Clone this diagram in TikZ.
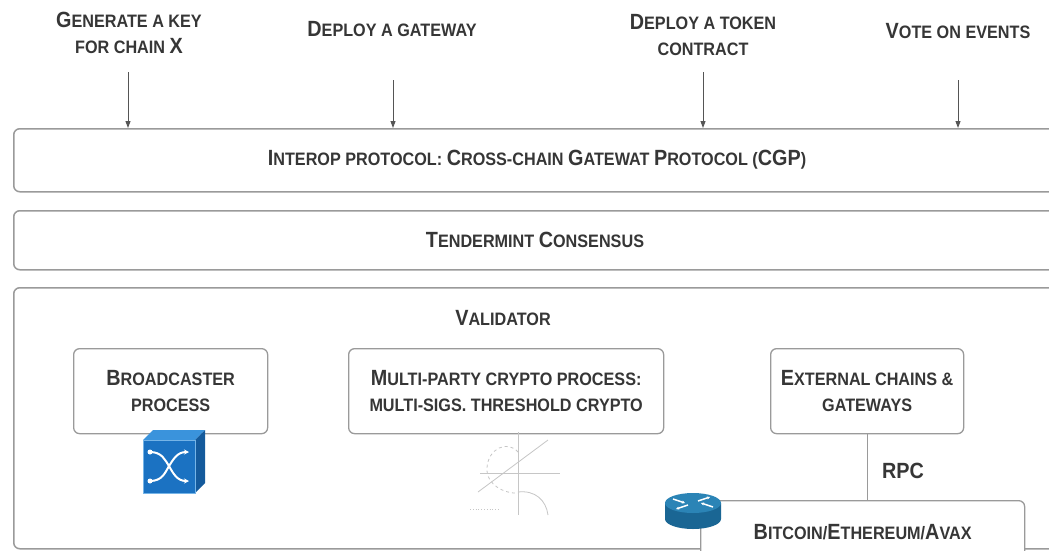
\documentclass[tikz,border=0pt]{standalone}
\usepackage{fontspec}
\usetikzlibrary{arrows.meta}
\newfontfamily\df[FakeStretch=0.9]{Liberation Sans Bold}
\newcommand\Cp[1]{{\fontsize{22}{26}\selectfont #1}}
\definecolor{txtc}{HTML}{363636}
\definecolor{boxc}{HTML}{9A9A9A}
\definecolor{arrc}{HTML}{555555}
\definecolor{swF}{HTML}{1B72C2}
\definecolor{swT}{HTML}{3A93DC}
\definecolor{swS}{HTML}{145A9C}
\definecolor{rtB}{HTML}{1A6694}
\definecolor{rtT}{HTML}{2B84B6}
\tikzset{
  txt/.style={font=\df\fontsize{18}{26}\selectfont, text=txtc, align=center, inner sep=0pt},
  layer/.style={draw=boxc, line width=1.5pt, rounded corners=6pt, fill=white, anchor=north west, inner sep=0pt},
  procbox/.style={draw=boxc, line width=1.3pt, rounded corners=6pt, fill=white, anchor=north west, inner sep=0pt, font=\df\fontsize{18}{26}\selectfont, text=txtc, align=center},
  arr/.style={draw=arrc, line width=0.9pt, -{Triangle[length=7pt,width=5pt]}},
  conn/.style={draw=boxc, line width=1.3pt},
  sketch/.style={draw=gray!45, line width=0.8pt}
}
\begin{document}
\begin{tikzpicture}[x=1pt,y=-1pt]
\useasboundingbox (0,0) rectangle (1049,550);
\clip (0,0) rectangle (1049,550);
\fill[white] (0,0) rectangle (1049,550);

% top labels
\node[txt] (g1) at (129,33) {\Cp{G}ENERATE A KEY\\FOR CHAIN \Cp{X}};
\node[txt] (g2) at (392,29) {\Cp{D}EPLOY A GATEWAY};
\node[txt] (g3) at (703,35) {\Cp{D}EPLOY A TOKEN\\CONTRACT};
\node[txt] (g4) at (958,31) {\Cp{V}OTE ON EVENTS};

% layers
\node[layer, minimum width=1060pt, minimum height=63pt] (interop) at (13,128) {};
\node[txt] (interopT) at (537,160) {\Cp{I}NTEROP PROTOCOL: \Cp{C}ROSS-CHAIN \Cp{G}ATEWAT \Cp{P}ROTOCOL (\Cp{CGP})};
\node[layer, minimum width=1060pt, minimum height=59pt] (tender) at (13,210) {};
\node[txt] (tenderT) at (535,240) {\Cp{T}ENDERMINT \Cp{C}ONSENSUS};
\node[layer, minimum width=1060pt, minimum height=261pt] (valid) at (13,287) {};
\node[txt] (validT) at (503,318) {\Cp{V}ALIDATOR};

% arrows
\coordinate (a1) at (128,72);
\coordinate (a2) at (393,80);
\coordinate (a3) at (703,72);
\coordinate (a4) at (958,80);
\foreach \a in {a1,a2,a3,a4} \draw[arr] (\a) -- (\a |- interop.north);

% process boxes
\node[procbox, minimum width=194pt, minimum height=85pt] (bcast) at (73,348) {\Cp{B}ROADCASTER\\PROCESS};
\node[procbox, minimum width=315pt, minimum height=85pt] (mpc) at (348,348) {\Cp{M}ULTI-PARTY CRYPTO PROCESS:\\MULTI-SIGS. THRESHOLD CRYPTO};
\node[procbox, minimum width=193pt, minimum height=85pt] (ext) at (770,348) {\Cp{E}XTERNAL CHAINS \&\\GATEWAYS};
\node[procbox, minimum width=324pt, minimum height=62pt] (btc) at (700,500) {\Cp{B}ITCOIN/\Cp{E}THEREUM/\Cp{A}VAX};

\draw[conn] (ext.south) -- (ext.south |- btc.north);
\node[txt, font=\df\fontsize{22}{26}\selectfont] (rpc) at (903,471) {RPC};

% switch cube icon
\fill[swT] (143,440) -- (153,430) -- (205,430) -- (195,440) -- cycle;
\fill[swS] (195,440) -- (205,430) -- (205,483) -- (195,493) -- cycle;
\fill[swF] (143,440) rectangle (195,493);
\draw[swT!70!white, line width=0.8pt] (143,440) rectangle (195,493);
\draw[white, line width=2pt, -{Stealth[length=5pt,width=5pt]}] (150,452) .. controls (162,452) and (165,460) .. (169,466) .. controls (173,473) and (177,481) .. (189,481);
\draw[white, line width=2pt, -{Stealth[length=5pt,width=5pt]}] (150,481) .. controls (162,481) and (165,473) .. (169,466) .. controls (173,460) and (177,452) .. (189,452);
\fill[white] (150,452) circle (2.5pt);
\fill[white] (150,481) circle (2.5pt);

% elliptic-curve sketch
\draw[sketch] (518,432) -- (518,515);
\draw[sketch] (480,473) -- (560,473);
\draw[sketch, dashed] (518,452) .. controls (508,440) and (488,448) .. (487,468) .. controls (486,485) and (505,494) .. (518,493);
\draw[sketch] (478,492) -- (548,440);
\draw[sketch] (518,492) .. controls (535,490) and (546,500) .. (548,515);
\draw[sketch, dotted] (470,509) -- (500,509);

% router icon
\fill[rtB] (665,503) -- (665,519) arc[start angle=180, end angle=0, x radius=28, y radius=10] -- (721,503) -- cycle;
\fill[rtT] (693,503) ellipse[x radius=28, y radius=10];
\draw[white, line width=1.5pt, -{Stealth[length=3pt,width=3pt]}] (673,499) -- (685,503);
\draw[white, line width=1.5pt, -{Stealth[length=3pt,width=3pt]}] (713,507) -- (701,503);
\draw[white, line width=1.5pt, -{Stealth[length=3pt,width=3pt]}] (688,505) -- (676,509);
\draw[white, line width=1.5pt, -{Stealth[length=3pt,width=3pt]}] (698,501) -- (710,497);
\end{tikzpicture}
\end{document}
